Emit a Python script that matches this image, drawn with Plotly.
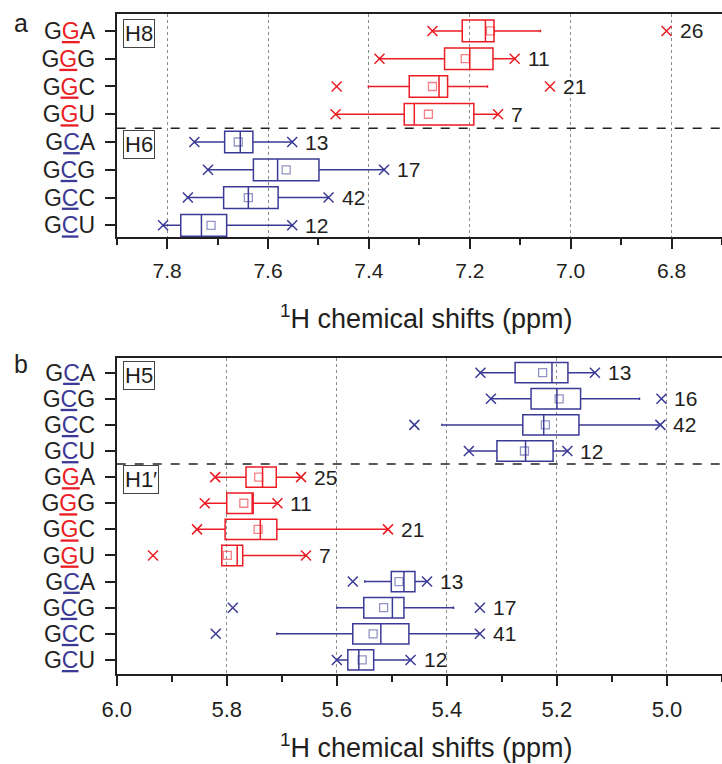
import plotly.graph_objects as go

RED = "#ec1c24"
BLUE = "#3b3a96"
TXT = "#231f20"
FONT = "Liberation Sans, Arial, sans-serif"

# ---------------- Panel a (H8 / H6) ----------------
a_labels = ["GGA", "GGG", "GGC", "GGU", "GCA", "GCG", "GCC", "GCU"]
a_xlo = [6.810, 7.111, 7.041, 7.144, 7.552, 7.370, 7.480, 7.552]   # right-hand "x" marks
a_flo = [7.060, 7.111, 7.165, 7.144, 7.552, 7.370, 7.480, 7.552]   # whisker ends (low ppm)
a_q1 = [7.152, 7.154, 7.244, 7.192, 7.630, 7.499, 7.580, 7.682]
a_med = [7.169, 7.200, 7.261, 7.310, 7.655, 7.581, 7.639, 7.732]
a_q3 = [7.215, 7.250, 7.320, 7.330, 7.686, 7.629, 7.688, 7.773]
a_fhi = [7.274, 7.379, 7.401, 7.466, 7.746, 7.719, 7.759, 7.808]  # whisker ends (high ppm)
a_xhi = [7.274, 7.379, 7.464, 7.466, 7.746, 7.719, 7.759, 7.808]  # left-hand "x" marks
a_mean = [7.159, 7.209, 7.274, 7.282, 7.659, 7.564, 7.639, 7.713]
a_n = [26, 11, 21, 7, 13, 17, 42, 12]
a_group = ["G", "G", "G", "G", "C", "C", "C", "C"]
a_ticks = [7.8, 7.6, 7.4, 7.2, 7.0, 6.8]
a_minor = [7.9, 7.7, 7.5, 7.3, 7.1, 6.9, 6.7]
a_panels = ["H8", "H6"]

# ---------------- Panel b (H5 / H1') ----------------
b_labels = ["GCA", "GCG", "GCC", "GCU", "GGA", "GGG", "GGC", "GGU", "GCA", "GCG", "GCC", "GCU"]
b_xlo = [5.131, 5.010, 5.012, 5.181, 5.665, 5.708, 5.507, 5.656, 5.436, 5.340, 5.340, 5.466]
b_flo = [5.131, 5.050, 5.012, 5.181, 5.665, 5.708, 5.507, 5.656, 5.436, 5.388, 5.340, 5.466]
b_q1 = [5.180, 5.157, 5.160, 5.207, 5.710, 5.752, 5.709, 5.771, 5.458, 5.478, 5.469, 5.533]
b_med = [5.209, 5.200, 5.224, 5.257, 5.735, 5.753, 5.739, 5.781, 5.478, 5.499, 5.520, 5.560]
b_q3 = [5.276, 5.247, 5.262, 5.309, 5.765, 5.800, 5.803, 5.809, 5.501, 5.551, 5.571, 5.580]
b_fhi = [5.339, 5.320, 5.409, 5.360, 5.821, 5.840, 5.854, 5.809, 5.549, 5.600, 5.709, 5.600]
b_xhi = [5.339, 5.320, 5.459, 5.360, 5.821, 5.840, 5.854, 5.934, 5.571, 5.789, 5.820, 5.600]
b_mean = [5.226, 5.196, 5.221, 5.259, 5.742, 5.769, 5.743, 5.799, 5.487, 5.515, 5.534, 5.554]
b_n = [13, 16, 42, 12, 25, 11, 21, 7, 13, 17, 41, 12]
b_group = ["C", "C", "C", "C", "G", "G", "G", "G", "C", "C", "C", "C"]
b_ticks = [6.0, 5.8, 5.6, 5.4, 5.2, 5.0]
b_minor = [5.9, 5.7, 5.5, 5.3, 5.1, 4.9]
b_panels = ["H5", "H1′"]

COLORS = {"G": RED, "C": BLUE}
MEANCOL = {"G": "rgba(236,28,36,0.55)", "C": "rgba(59,58,150,0.55)"}

fig = go.Figure()


def add_panel(xa, ya, labels, xlo, flo, q1, med, q3, fhi, xhi, mean, n, group):
    pos = list(range(len(labels)))
    for g in ["G", "C"]:
        idx = [i for i in pos if group[i] == g]
        col = COLORS[g]
        fig.add_trace(go.Box(
            y=[pos[i] for i in idx],
            q1=[q1[i] for i in idx], median=[med[i] for i in idx], q3=[q3[i] for i in idx],
            lowerfence=[flo[i] for i in idx], upperfence=[fhi[i] for i in idx],
            orientation="h", boxpoints=False, width=0.78, whiskerwidth=0.12,
            line=dict(color=col, width=1.5), fillcolor="rgba(0,0,0,0)",
            xaxis=xa, yaxis=ya, showlegend=False, hoverinfo="skip",
        ))
        fig.add_trace(go.Scatter(
            x=[mean[i] for i in idx], y=[pos[i] for i in idx], mode="markers",
            marker=dict(symbol="square-open", size=8, color=MEANCOL[g], line=dict(width=1.3)),
            xaxis=xa, yaxis=ya, showlegend=False, hoverinfo="skip",
        ))
        fig.add_trace(go.Scatter(
            x=[xlo[i] for i in idx] + [xhi[i] for i in idx],
            y=[pos[i] for i in idx] * 2, mode="markers",
            marker=dict(symbol="x-thin-open", size=10, color=col, line=dict(width=1.5, color=col)),
            xaxis=xa, yaxis=ya, showlegend=False, hoverinfo="skip",
        ))
    for i in pos:
        fig.add_annotation(x=xlo[i], y=pos[i], xref=xa, yref=ya, text=str(n[i]),
                           showarrow=False, xanchor="left", yanchor="middle", xshift=11,
                           font=dict(family=FONT, size=21, color=TXT))


add_panel("x", "y", a_labels, a_xlo, a_flo, a_q1, a_med, a_q3, a_fhi, a_xhi, a_mean, a_n, a_group)
add_panel("x2", "y2", b_labels, b_xlo, b_flo, b_q1, b_med, b_q3, b_fhi, b_xhi, b_mean, b_n, b_group)


def ticktext(labels, group):
    out = []
    for lab, g in zip(labels, group):
        out.append(f"{lab[0]}<span style='color:{COLORS[g]}'><u>{lab[1]}</u></span>{lab[2]}")
    return out


def xaxis_def(domain, rng, ticks, minor, fsize):
    return dict(
        domain=domain, range=rng, tickmode="array", tickvals=ticks,
        ticktext=[f"{t:.1f}" for t in ticks],
        ticks="outside", ticklen=10, tickwidth=2, tickcolor=TXT,
        showline=True, linewidth=2, linecolor=TXT, mirror=True,
        showgrid=True, gridcolor="#8a8a8a", gridwidth=1, griddash="dot",
        zeroline=False, automargin=False, ticklabelstandoff=4,
        tickfont=dict(family=FONT, size=fsize, color=TXT),
        minor=dict(tickmode="array", tickvals=minor, ticks="outside", ticklen=6,
                   tickwidth=2, tickcolor=TXT, showgrid=False),
    )


def yaxis_def(domain, rng, labels, group, anchor):
    return dict(
        domain=domain, range=rng, anchor=anchor, tickmode="array",
        tickvals=list(range(len(labels))), ticktext=ticktext(labels, group),
        ticks="outside", ticklen=10, tickwidth=2, tickcolor=TXT,
        showline=True, linewidth=2, linecolor=TXT, showgrid=False, zeroline=False,
        automargin=False, ticklabelstandoff=5,
        tickfont=dict(family=FONT, size=23, color=TXT),
    )


W, H = 722, 764
xdom = [116.7 / W, 1.0]
fig.update_layout(
    width=W, height=H, margin=dict(l=0, r=0, t=0, b=0),
    paper_bgcolor="white", plot_bgcolor="white", template="none",
    boxmode="overlay",
    xaxis=dict(**xaxis_def(xdom, [7.9, 6.7], a_ticks, a_minor, 21), anchor="y"),
    yaxis=yaxis_def([1 - 237 / H, 1 - 14 / H], [7.42, -0.61], a_labels, a_group, "x"),
    xaxis2=dict(**xaxis_def(xdom, [6.0, 4.9], b_ticks, b_minor, 22), anchor="y2"),
    yaxis2=yaxis_def([1 - 674.3 / H, 1 - 358.3 / H], [11.55, -0.55], b_labels, b_group, "x2"),
)

# dashed separators
for xr, yr in [("x domain", "y"), ("x2 domain", "y2")]:
    fig.add_shape(type="line", xref=xr, yref=yr, x0=0, x1=1, y0=3.5, y1=3.5,
                  line=dict(color=TXT, width=1.5, dash="dash"))

# panel labels (H8 etc.)
for xr, yr, names in [("x domain", "y", a_panels), ("x2 domain", "y2", b_panels)]:
    for k, name in enumerate(names):
        fig.add_annotation(x=0, y=4 * k + 0.1, xref=xr, yref=yr, text=name, showarrow=False,
                           xanchor="left", yanchor="middle", xshift=6,
                           bordercolor="#444", borderwidth=1, borderpad=1,
                           font=dict(family=FONT, size=22, color=TXT))

# axis titles
for yp in [1 - 317 / H, 1 - 746 / H]:
    fig.add_annotation(x=426 / W, y=yp, xref="paper", yref="paper",
                       text="<sup>1</sup>H chemical shifts (ppm)", showarrow=False,
                       xanchor="center", yanchor="middle",
                       font=dict(family=FONT, size=27, color=TXT))

# figure letters
fig.add_annotation(x=12 / W, y=1 - 23 / H, xref="paper", yref="paper", text="a",
                   showarrow=False, xanchor="left", yanchor="middle",
                   font=dict(family=FONT, size=25, color=TXT))
fig.add_annotation(x=12 / W, y=1 - 364 / H, xref="paper", yref="paper", text="b",
                   showarrow=False, xanchor="left", yanchor="middle",
                   font=dict(family=FONT, size=25, color=TXT))

fig.write_html("out.html")
